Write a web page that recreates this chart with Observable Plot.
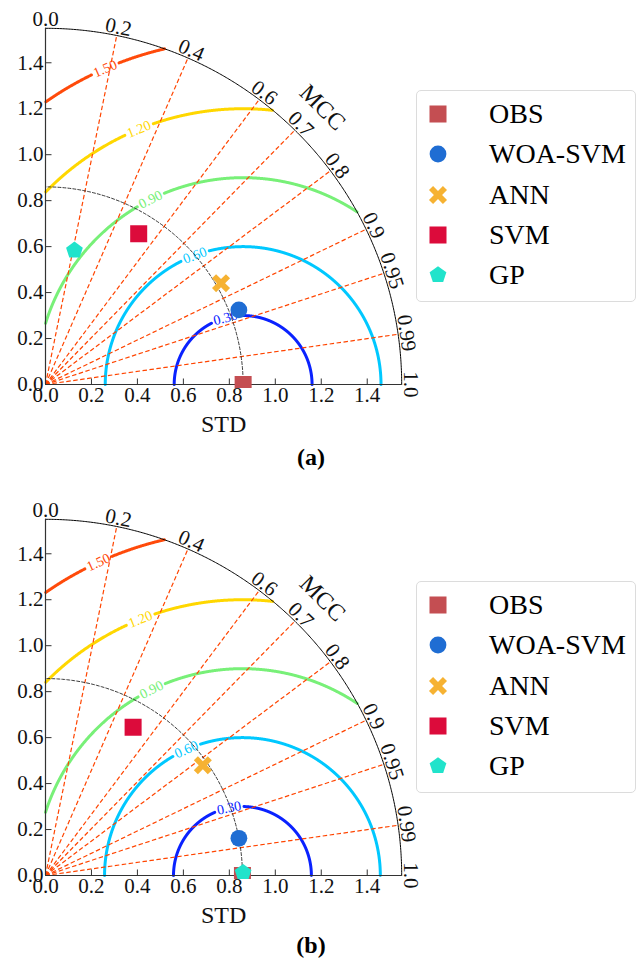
<!DOCTYPE html>
<html>
<head>
<meta charset="utf-8">
<script src="https://cdn.jsdelivr.net/npm/d3@7"></script>
<script src="https://cdn.jsdelivr.net/npm/@observablehq/plot@0.6"></script>
<style>
  body { margin: 0; background: #fff; }
  #root { position: relative; width: 640px; height: 958px; font-family: "Liberation Serif", "Times New Roman", serif; }
  .panel { position: absolute; left: 0; width: 640px; }
  .panel svg text { font-family: "Liberation Serif", "Times New Roman", serif; }
  .legend { position: absolute; left: 416px; top: 90px; width: 220px; height: 212px; box-sizing: border-box;
            border: 1px solid #dcdcdc; border-radius: 5px; background: #fff; }
  .row { position: absolute; left: 0; width: 218px; height: 36px; }
  .row svg { position: absolute; left: 11px; top: 8px; }
  .row span { position: absolute; left: 72px; top: 0; line-height: 36px; font-size: 28px; color: #000; white-space: nowrap; }
  .caption { position: absolute; left: 0; width: 622px; text-align: center; font-size: 24px; font-weight: bold; line-height: 28px; }
</style>
</head>
<body>
<div id="root"></div>
<script>
// ---------------- data ----------------
const models = ["OBS", "WOA-SVM", "ANN", "SVM", "GP"];
// panel (a)
const stdA  = [0.860, 0.902, 0.882, 0.771, 0.597];
const corrA = [1.000, 0.933, 0.866, 0.526, 0.211];
const refA  = 0.860;
// panel (b)
const stdB  = [0.857, 0.857, 0.836, 0.749, 0.860];
const corrB = [1.000, 0.982, 0.819, 0.509, 0.9999];
const refB  = 0.857;
// centred RMS difference contour levels
const rmsLevels = [0.30, 0.60, 0.90, 1.20, 1.50];
// correlation (MCC) lines and labels
const corrLines  = [0.2, 0.4, 0.6, 0.7, 0.8, 0.9, 0.95, 0.99];
const corrLabels = [0.0, 0.2, 0.4, 0.6, 0.7, 0.8, 0.9, 0.95, 0.99, 1.0];
// standard deviation ticks
const stdTicks = [0.0, 0.2, 0.4, 0.6, 0.8, 1.0, 1.2, 1.4];
const stdMax = 1.55;

// ---------------- styles ----------------
const modelColors = ["#c44e52", "#1f6dd3", "#f6b232", "#dc0b3b", "#21e3cb"];
const rmsColors = ["#0a22ff", "#00c8ff", "#78f078", "#ffd700", "#ff4a0a"];
// angular position (deg, about the reference point) of each contour label
const labelAnglesA = [104.8, 110.5, 116.6, 112.2, 113.6];
const labelAnglesB = [101.2, 114.0, 116.1, 111.7, 114.7];
const PX = 229.8; // pixels per unit
const FONT = "'Liberation Serif', 'Times New Roman', serif";

// ---------------- symbols ----------------
const pentagon = { draw(ctx, size) {
  const R = Math.sqrt(size / Math.PI);
  for (let k = 0; k < 5; k++) {
    const a = (-90 + 72 * k) * Math.PI / 180;
    const x = R * Math.cos(a), y = R * Math.sin(a);
    k ? ctx.lineTo(x, y) : ctx.moveTo(x, y);
  }
  ctx.closePath();
}};
const thickX = { draw(ctx, size) {
  const R = Math.sqrt(size / Math.PI);
  const a = 0.34 * R, L = 1.16 * R;
  const p = [[a,-L],[a,-a],[L,-a],[L,a],[a,a],[a,L],[-a,L],[-a,a],[-L,a],[-L,-a],[-a,-a],[-a,-L]];
  p.forEach(([x, y], i) => {
    const u = (x - y) / Math.SQRT2, v = (x + y) / Math.SQRT2;
    i ? ctx.lineTo(u, v) : ctx.moveTo(u, v);
  });
  ctx.closePath();
}};
const tickUp = { draw(ctx) { ctx.moveTo(0, 0); ctx.lineTo(0, -6); } };
const tickRight = { draw(ctx) { ctx.moveTo(0, 0); ctx.lineTo(6, 0); } };

const modelSymbols = ["square", "circle", thickX, "square", pentagon];
const modelR = [9.6, 8.4, 8.5, 9.6, 8.8];

// ---------------- helpers ----------------
function arc(cx, rad, a0, a1, step) {
  const out = [];
  for (let a = a0; a <= a1 + 1e-9; a += step) {
    const t = a * Math.PI / 180;
    out.push({x: cx + rad * Math.cos(t), y: rad * Math.sin(t), a});
  }
  return out;
}
function fmt(d) { return Number.isInteger(d) ? d.toFixed(1) : String(d); }

function panel(std, corr, ref, labelAngles) {
  const pts = models.map((m, i) => ({
    model: m,
    x: std[i] * corr[i],
    y: std[i] * Math.sqrt(Math.max(0, 1 - corr[i] * corr[i]))
  }));
  const marks = [];
  // RMS contours with gaps for the labels
  rmsLevels.forEach((lev, i) => {
    const la = labelAngles[i];
    const gap = (15 / PX) / lev * 180 / Math.PI;
    const data = arc(ref, lev, 0, 180, 0.1)
      .filter(p => p.x >= 0 && p.x * p.x + p.y * p.y <= stdMax * stdMax && Math.abs(p.a - la) > gap)
      .map(p => ({...p, z: p.a < la ? 0 : 1}));
    marks.push(Plot.line(data, {x: "x", y: "y", z: "z", stroke: rmsColors[i], strokeWidth: 3}));
    const t = la * Math.PI / 180;
    marks.push(Plot.text([lev], {
      x: d => ref + d * Math.cos(t), y: d => d * Math.sin(t),
      text: d => d.toFixed(2), rotate: 90 - la,
      fill: rmsColors[i], fontSize: 14, fontFamily: FONT
    }));
  });
  // correlation lines
  marks.push(Plot.link(corrLines, {
    x1: 0, y1: 0, x2: c => stdMax * c, y2: c => stdMax * Math.sqrt(1 - c * c),
    stroke: "#ff4500", strokeWidth: 1.2, strokeDasharray: "4.5,2.5"
  }));
  // reference std arc
  marks.push(Plot.line(arc(0, ref, 0, 90, 0.5), {x: "x", y: "y", stroke: "#222", strokeWidth: 0.9, strokeDasharray: "3,2"}));
  // outer arc
  marks.push(Plot.line(arc(0, stdMax, 0, 90, 0.25), {x: "x", y: "y", stroke: "#000", strokeWidth: 1}));
  // axes
  marks.push(Plot.ruleY([0], {x1: 0, x2: stdMax, stroke: "#333", strokeWidth: 1.2}));
  marks.push(Plot.ruleX([0], {y1: 0, y2: stdMax, stroke: "#333", strokeWidth: 1.2}));
  marks.push(Plot.dot(stdTicks.slice(1), {x: d => d, y: 0, symbol: tickUp, r: 1, stroke: "#333", fill: "none", strokeWidth: 1}));
  marks.push(Plot.dot(stdTicks.slice(1), {x: 0, y: d => d, symbol: tickRight, r: 1, stroke: "#333", fill: "none", strokeWidth: 1}));
  marks.push(Plot.text(stdTicks, {x: d => d, y: 0, text: d => d.toFixed(1), lineAnchor: "top", dy: 3, fontSize: 21, fill: "#111", fontFamily: FONT}));
  marks.push(Plot.text(stdTicks, {x: 0, y: d => d, text: d => d.toFixed(1), textAnchor: "end", dx: -2, fontSize: 21, fill: "#111", fontFamily: FONT}));
  // correlation labels
  const rl = stdMax + 0.008;
  marks.push(Plot.text(corrLabels, {
    x: c => rl * c, y: c => rl * Math.sqrt(1 - c * c), text: fmt,
    rotate: c => 90 - Math.acos(c) * 180 / Math.PI,
    lineAnchor: "bottom", fontSize: 21, fill: "#111", fontFamily: FONT
  }));
  // axis titles
  const mccR = 1.705, mccA = 45 * Math.PI / 180;
  marks.push(Plot.text(["MCC"], {x: mccR * Math.cos(mccA), y: mccR * Math.sin(mccA), text: d => d, rotate: 45, fontSize: 24, fill: "#111", fontFamily: FONT}));
  marks.push(Plot.text(["STD"], {x: stdMax / 2, y: 0, text: d => d, dy: 40, fontSize: 24, fill: "#111", fontFamily: FONT}));
  // model points
  pts.forEach((p, i) => {
    marks.push(Plot.dot([p], {x: "x", y: "y", symbol: modelSymbols[i], r: modelR[i], fill: modelColors[i], stroke: "none", clip: true}));
  });
  return Plot.plot({
    width: 640, height: 440,
    marginLeft: 45, marginRight: 640 - (45 + stdMax * PX),
    marginTop: 27.8, marginBottom: 52,
    x: {domain: [0, stdMax], axis: null},
    y: {domain: [-4 / PX, stdMax], axis: null},
    style: {fontFamily: FONT, background: "transparent", overflow: "visible"},
    marks
  });
}

function legend() {
  const box = document.createElement("div");
  box.className = "legend";
  models.forEach((m, i) => {
    const row = document.createElement("div");
    row.className = "row";
    row.style.top = (23 + i * 40.3 - 18) + "px";
    const sym = typeof modelSymbols[i] === "string"
      ? (modelSymbols[i] === "square" ? d3.symbolSquare : d3.symbolCircle)
      : modelSymbols[i];
    const size = Math.PI * modelR[i] * modelR[i];
    const path = d3.symbol(sym, size)();
    row.innerHTML = `<svg width="20" height="20" viewBox="-10 -10 20 20"><path d="${path}" fill="${modelColors[i]}"/></svg><span>${m}</span>`;
    box.appendChild(row);
  });
  return box;
}

const root = document.getElementById("root");
[[stdA, corrA, refA, labelAnglesA, "(a)", 0], [stdB, corrB, refB, labelAnglesB, "(b)", 491]].forEach(([s, c, r, la, cap, top]) => {
  const div = document.createElement("div");
  div.className = "panel";
  div.style.top = top + "px";
  div.style.height = "467px";
  div.appendChild(panel(s, c, r, la));
  const svg = div.querySelector("svg");
  svg.style.position = "absolute";
  svg.style.left = "0";
  svg.style.top = "0";
  div.appendChild(legend());
  const capDiv = document.createElement("div");
  capDiv.className = "caption";
  capDiv.style.top = (cap === "(a)" ? 443 : 440) + "px";
  capDiv.textContent = cap;
  div.appendChild(capDiv);
  root.appendChild(div);
});
</script>
</body>
</html>
